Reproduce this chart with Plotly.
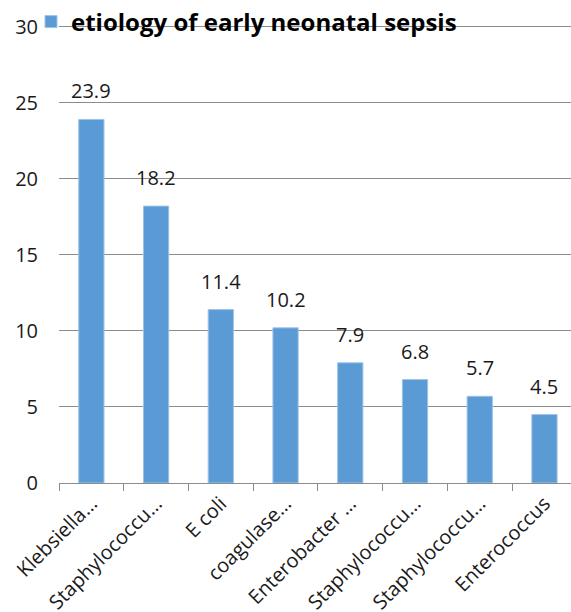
import plotly.graph_objects as go

categories = ["Klebsiella pneumoniae", "Staphylococcus aureus", "E coli",
              "coagulase negative staphylococci", "Enterobacter spp",
              "Staphylococcus epidermidis", "Staphylococcus haemolyticus", "Enterococcus"]
tick_labels = ["Klebsiella…", "Staphylococcu…", "E coli", "coagulase…",
               "Enterobacter …", "Staphylococcu…", "Staphylococcu…", "Enterococcus"]
values = [23.9, 18.2, 11.4, 10.2, 7.9, 6.8, 5.7, 4.5]
series_name = "etiology of early neonatal sepsis"
y_ticks = [0, 5, 10, 15, 20, 25, 30]

FONT = "Open Sans"
BLUE = "#5B9BD5"
GRID = "#8C8C8C"
TXT = "#1a1a1a"

fig = go.Figure()
fig.add_trace(go.Bar(
    x=categories, y=values, name=series_name,
    marker=dict(color=BLUE, line=dict(color="#9DC3E6", width=1)),
    width=0.39, showlegend=True,
))

for c, v in zip(categories, values):
    fig.add_annotation(x=c, y=v, text=f"{v}", showarrow=False,
                       yanchor="bottom", yshift=13,
                       font=dict(family=FONT, size=20, color=TXT))

fig.update_layout(
    width=571, height=612,
    margin=dict(l=59, r=0, t=19.4, b=129, autoexpand=False),
    paper_bgcolor="white", plot_bgcolor="white",
    font=dict(family=FONT, size=20, color=TXT),
    showlegend=True,
    legend=dict(orientation="h", xref="container", yref="container",
                x=31 / 571, xanchor="left", y=1 - 22 / 612, yanchor="middle",
                bgcolor="rgba(0,0,0,0)",
                font=dict(family=FONT, size=24, color="#000000", weight="bold"),
                itemwidth=30, tracegroupgap=0),
    xaxis=dict(
        type="category", categoryorder="array", categoryarray=categories,
        tickvals=categories, ticktext=tick_labels, automargin=False,
        range=[-0.5, 7.41], tickangle=-45,
        showline=True, linecolor=GRID, linewidth=1,
        ticks="outside", tickson="boundaries", ticklen=7, tickcolor=GRID,
        showgrid=False, zeroline=False,
        tickfont=dict(family=FONT, size=20, color=TXT),
    ),
    yaxis=dict(
        range=[0, 30.5], tickvals=y_ticks, automargin=False,
        showgrid=True, gridcolor=GRID, gridwidth=1,
        showline=False, zeroline=False, ticks="", ticklen=0,
        ticklabelstandoff=20,
        tickfont=dict(family=FONT, size=20, color=TXT),
    ),
    bargap=0.6,
)

fig.write_html("out.html", config={"displayModeBar": False},
               post_script="document.body.style.margin='0px';")
